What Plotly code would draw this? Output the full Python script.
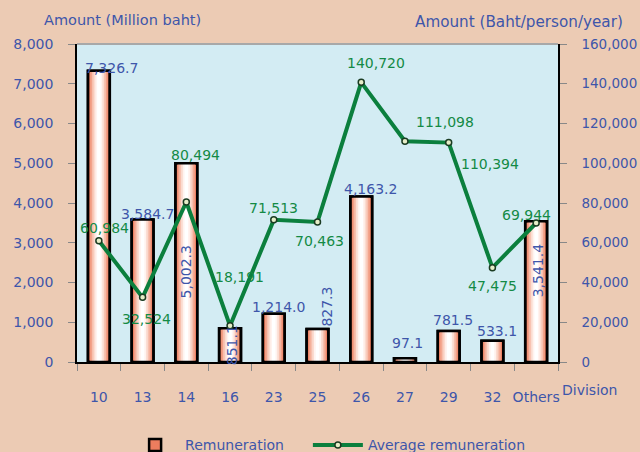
import plotly.graph_objects as go

divisions = ["10", "13", "14", "16", "23", "25", "26", "27", "29", "32", "Others"]
remuneration = [7326.7, 3584.7, 5002.3, 851.1, 1214.0, 827.3, 4163.2, 97.1, 781.5, 533.1, 3541.4]
avg_remuneration = [60984, 32524, 80494, 18191, 71513, 70463, 140720, 111098, 110394, 47475, 69944]
left_ticks = [0, 1000, 2000, 3000, 4000, 5000, 6000, 7000, 8000]
right_ticks = [0, 20000, 40000, 60000, 80000, 100000, 120000, 140000, 160000]

# label placement (pixel offsets, rotation) — styling only
bar_lbl_dx = [13, 5, 0, 2, 5, 10, 9, 3, 4, 5, 2]
bar_lbl_dy = [3, 6, -109, -17, 7, 22, 8, 15, 11, 10, -49]
bar_lbl_rot = [0, 0, -90, -90, 0, -90, 0, 0, 0, 0, -90]
line_lbl_dx = [6, 4, 9, 9, 0, 2, 15, 40, 41, 0, -10]
line_lbl_dy = [13, -22, 47, 49, 12, -19, 19, 19, -21, -18, 8]

BLUE = "#3e56aa"
GREEN_TXT = "#138a45"
GREEN = "#0b7f3d"
FONT = "DejaVu Sans"

fig = go.Figure()

# gradient-like bars: outer fill with outline, then lighter inner layers
fig.add_trace(go.Bar(x=divisions, y=remuneration, name="Remuneration", width=0.5,
                     marker=dict(color="#ec7d5e", line=dict(color="black", width=2.5)),
                     yaxis="y", legend="legend"))
layers = [(0.40, "#f29f86"), (0.32, "#f7c0ae"), (0.24, "#fbdcd1"), (0.16, "#fff3ef"), (0.08, "#ffffff")]
for w, c in layers:
    fig.add_trace(go.Bar(x=divisions, y=remuneration, width=w, showlegend=False,
                         marker=dict(color=c, line=dict(width=0)), yaxis="y", hoverinfo="skip"))
fig.add_trace(go.Bar(x=divisions, y=remuneration, width=0.5, showlegend=False,
                     marker=dict(color="rgba(0,0,0,0)", line=dict(color="black", width=2.5)),
                     yaxis="y", hoverinfo="skip"))

fig.add_trace(go.Scatter(x=divisions, y=avg_remuneration, name="Average remuneration",
                         mode="lines+markers", yaxis="y2", legend="legend2",
                         line=dict(color=GREEN, width=4),
                         marker=dict(symbol="circle", size=6, color="#e6eec8",
                                     line=dict(color="#1b3b22", width=1.5))))

annotations = []
for i, d in enumerate(divisions):
    annotations.append(dict(x=i, y=remuneration[i], xref="x", yref="y",
                            text=f"{remuneration[i]:,.1f}", showarrow=False,
                            xshift=bar_lbl_dx[i], yshift=bar_lbl_dy[i], textangle=bar_lbl_rot[i],
                            xanchor="center", yanchor="middle",
                            font=dict(family=FONT, size=14, color=BLUE)))
    annotations.append(dict(x=i, y=avg_remuneration[i], xref="x", yref="y2",
                            text=f"{avg_remuneration[i]:,}", showarrow=False,
                            xshift=line_lbl_dx[i], yshift=line_lbl_dy[i],
                            xanchor="center", yanchor="middle",
                            font=dict(family=FONT, size=14, color=GREEN_TXT)))

annotations += [
    dict(x=0.094, y=1.0755, xref="paper", yref="paper", text="Amount (Million baht)",
         showarrow=False, xanchor="center", yanchor="middle",
         font=dict(family=FONT, size=14.5, color=BLUE)),
    dict(x=0.918, y=1.069, xref="paper", yref="paper", text="Amount (Baht/person/year)",
         showarrow=False, xanchor="center", yanchor="middle",
         font=dict(family=FONT, size=15.2, color=BLUE)),
    dict(x=1.0665, y=-0.088, xref="paper", yref="paper", text="Division",
         showarrow=False, xanchor="center", yanchor="middle",
         font=dict(family=FONT, size=14, color=BLUE)),
]

legend_style = dict(orientation="h", y=-0.212, xanchor="left", yanchor="top",
                    bgcolor="rgba(0,0,0,0)", font=dict(family=FONT, size=14, color=BLUE),
                    itemwidth=50)

fig.update_layout(
    width=640, height=452,
    margin=dict(l=77, r=82, t=44, b=90, autoexpand=False),
    paper_bgcolor="#eccbb4",
    plot_bgcolor="#d3ecf3",
    barmode="overlay",
    font=dict(family=FONT, size=14, color=BLUE),
    showlegend=True,
    legend=dict(x=0.1, **legend_style),
    legend2=dict(x=0.48, **legend_style),
    xaxis=dict(type="category", range=[-0.5, 10.5], showgrid=False, showline=True,
               linecolor="black", linewidth=1.5, automargin=False,
               ticks="outside", tickson="boundaries", ticklen=7, tickcolor="#888888",
               tickfont=dict(family=FONT, size=14, color=BLUE), ticklabelstandoff=21,
               tickangle=0, zeroline=False),
    yaxis=dict(range=[0, 8000], tickvals=left_ticks, tickformat=",d", showgrid=False,
               showline=True, linecolor="black", linewidth=1.5, ticks="outside", ticklen=7,
               tickcolor="#888888", tickfont=dict(family=FONT, size=14, color=BLUE),
               ticklabelstandoff=12, zeroline=False, automargin=False),
    yaxis2=dict(range=[0, 160000], tickvals=right_ticks, tickformat=",d", overlaying="y",
                side="right", showgrid=False, showline=True, linecolor="black", linewidth=1.5,
                ticks="outside", ticklen=7, tickcolor="#888888", automargin=False,
                tickfont=dict(family=FONT, size=13.5, color=BLUE), ticklabelstandoff=12,
                zeroline=False),
    annotations=annotations,
    shapes=[dict(type="line", xref="paper", yref="paper", x0=0, x1=1, y0=1, y1=1,
                 line=dict(color="#a8a8a8", width=2))],
)

fig.write_html("out.html", config={"displayModeBar": False},
               post_script="document.body.style.margin='0';document.body.style.overflow='hidden';")
